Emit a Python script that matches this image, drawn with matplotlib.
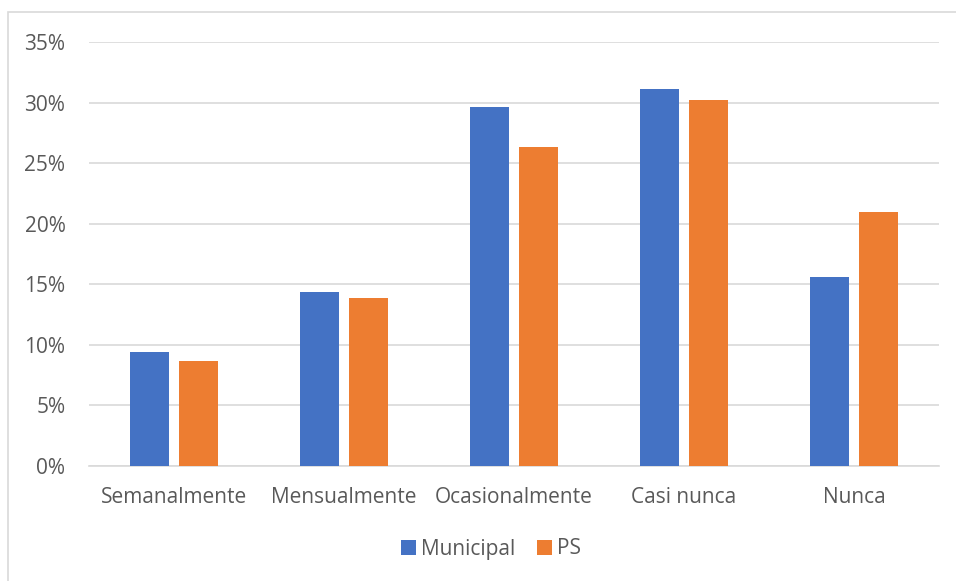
import matplotlib.pyplot as plt
import numpy as np
from matplotlib.patches import Rectangle

# === Dados ===
categorias = ["Semanalmente", "Mensualmente", "Ocasionalmente", "Casi nunca", "Nunca"]
municipal = [9.4, 14.4, 29.6, 31.1, 15.6]
ps = [8.7, 13.9, 26.3, 30.2, 21.0]

AZUL = "#4472C4"
LARANJA = "#ED7D31"
TEXTO = "#595959"

plt.rcParams["font.family"] = ["Open Sans", "DejaVu Sans"]

fig = plt.figure(figsize=(9.56, 5.81), dpi=100)
ax = fig.add_axes([0.0931, 0.1979, 0.8891, 0.7298])

# moldura do gráfico (cortada à direita e embaixo)
fig.patches.append(Rectangle((8 / 956, -0.1), 1.2, 0.1 + (581 - 12) / 581,
                             transform=fig.transFigure, fill=False,
                             edgecolor="#D9D9D9", linewidth=1.2))

x = np.arange(len(categorias))
larg = 0.224
ax.bar(x - 0.144, municipal, larg, color=AZUL, label="Municipal", zorder=3)
ax.bar(x + 0.144, ps, larg, color=LARANJA, label="PS", zorder=3)

ax.set_xlim(-0.5, len(categorias) - 0.5)
ax.set_ylim(0, 35)
ax.set_yticks(range(0, 36, 5))
ax.set_yticklabels([f"{v}%" for v in range(0, 36, 5)])
ax.set_xticks(x)
ax.set_xticklabels(categorias)
ax.tick_params(axis="both", length=0, labelsize=15, labelcolor=TEXTO)
ax.tick_params(axis="y", pad=17)
ax.tick_params(axis="x", pad=15)

ax.grid(axis="y", color="#D9D9D9", linewidth=1.2, zorder=0)
for s in ["top", "right", "left"]:
    ax.spines[s].set_visible(False)
ax.spines["bottom"].set_color("#D9D9D9")
ax.spines["bottom"].set_linewidth(1.2)

leg = fig.legend(loc="center", bbox_to_anchor=(0.5136, 1 - 549 / 581), ncol=2,
                 frameon=False, fontsize=15, handlelength=0.75, handleheight=0.75,
                 handletextpad=0.25, columnspacing=1.0)
for t in leg.get_texts():
    t.set_color(TEXTO)

fig.savefig("out.png", dpi=100)
